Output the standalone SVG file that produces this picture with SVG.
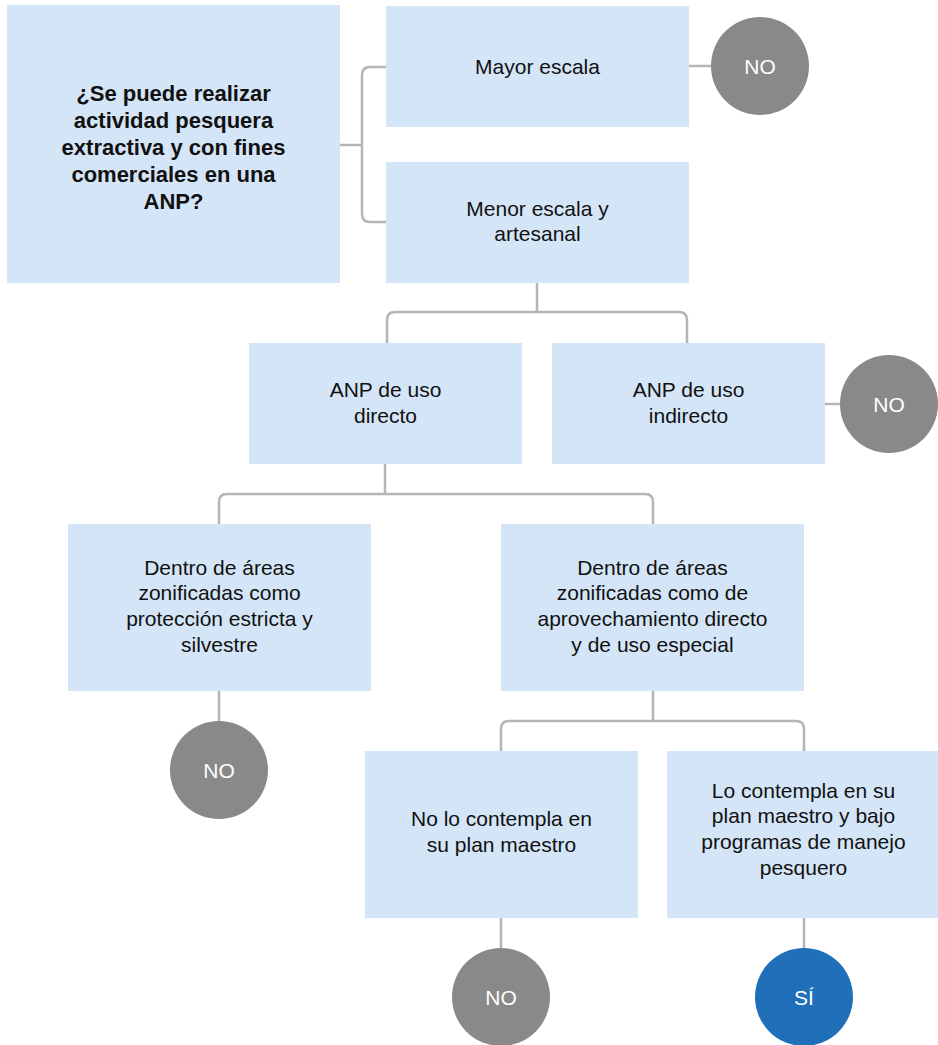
<svg xmlns="http://www.w3.org/2000/svg" width="938" height="1045" viewBox="0 0 938 1045">
<style>
.box{fill:#d4e5f7}
.t{font-family:"Liberation Sans",Arial,sans-serif;font-size:21px;fill:#111;text-anchor:middle}
.tb{font-family:"Liberation Sans",Arial,sans-serif;font-size:22px;font-weight:bold;fill:#111;text-anchor:middle}
.ct{font-family:"Liberation Sans",Arial,sans-serif;font-size:21px;fill:#fff;text-anchor:middle}
.no{fill:#898989}
.si{fill:#1f70b8}
.c{fill:none;stroke:#b5b5b5;stroke-width:2.5}
</style>
<rect width="938" height="1045" fill="#fff"/>
<g id="connectors">
<path class="c" d="M340,145 H362"/>
<path class="c" d="M386,67 H370 Q362,67 362,75 V214 Q362,222 370,222 H386"/>
<path class="c" d="M689,66 H711"/>
<path class="c" d="M537,283 V312"/>
<path class="c" d="M387,343 V320 Q387,312 395,312 H679 Q687,312 687,320 V343"/>
<path class="c" d="M825,404 H840"/>
<path class="c" d="M385,464 V494"/>
<path class="c" d="M219,524 V502 Q219,494 227,494 H645 Q653,494 653,502 V524"/>
<path class="c" d="M219,691 V721"/>
<path class="c" d="M653,691 V721"/>
<path class="c" d="M501,751 V729 Q501,721 509,721 H796 Q804,721 804,729 V751"/>
<path class="c" d="M501,918 V948"/>
<path class="c" d="M804,918 V948"/>
</g>
<g id="question">
<rect class="box" x="7" y="5" width="333" height="278"/>
<text class="tb"><tspan x="173.5" y="101">¿Se puede realizar</tspan><tspan x="173.5" y="128">actividad pesquera</tspan><tspan x="173.5" y="155">extractiva y con fines</tspan><tspan x="173.5" y="182">comerciales en una</tspan><tspan x="173.5" y="209">ANP?</tspan></text>
</g>
<g id="mayor">
<rect class="box" x="386" y="6" width="303" height="121"/>
<text class="t" x="537.5" y="74">Mayor escala</text>
</g>
<g id="no1">
<circle class="no" cx="760" cy="66" r="49"/>
<text class="ct" x="760" y="73.5">NO</text>
</g>
<g id="menor">
<rect class="box" x="386" y="162" width="303" height="121"/>
<text class="t"><tspan x="537.5" y="216">Menor escala y</tspan><tspan x="537.5" y="241">artesanal</tspan></text>
</g>
<g id="directo">
<rect class="box" x="249" y="343" width="273" height="121"/>
<text class="t"><tspan x="385.5" y="397">ANP de uso</tspan><tspan x="385.5" y="422.5">directo</tspan></text>
</g>
<g id="indirecto">
<rect class="box" x="552" y="343" width="273" height="121"/>
<text class="t"><tspan x="688.5" y="397">ANP de uso</tspan><tspan x="688.5" y="422.5">indirecto</tspan></text>
</g>
<g id="no2">
<circle class="no" cx="889" cy="404" r="49"/>
<text class="ct" x="889" y="411.5">NO</text>
</g>
<g id="dentro1">
<rect class="box" x="68" y="524" width="303" height="167"/>
<text class="t"><tspan x="219.5" y="574.5">Dentro de áreas</tspan><tspan x="219.5" y="600.3">zonificadas como</tspan><tspan x="219.5" y="626">protección estricta y</tspan><tspan x="219.5" y="651.8">silvestre</tspan></text>
</g>
<g id="dentro2">
<rect class="box" x="501" y="524" width="303" height="167"/>
<text class="t"><tspan x="652.5" y="574.5">Dentro de áreas</tspan><tspan x="652.5" y="600.3">zonificadas como de</tspan><tspan x="652.5" y="626">aprovechamiento directo</tspan><tspan x="652.5" y="651.8">y de uso especial</tspan></text>
</g>
<g id="no3">
<circle class="no" cx="219" cy="770" r="49"/>
<text class="ct" x="219" y="777.5">NO</text>
</g>
<g id="nolo">
<rect class="box" x="365" y="751" width="273" height="167"/>
<text class="t"><tspan x="501.5" y="826">No lo contempla en</tspan><tspan x="501.5" y="851.7">su plan maestro</tspan></text>
</g>
<g id="lo">
<rect class="box" x="667" y="751" width="273" height="167"/>
<text class="t"><tspan x="803.5" y="797.5">Lo contempla en su</tspan><tspan x="803.5" y="823.3">plan maestro y bajo</tspan><tspan x="803.5" y="849">programas de manejo</tspan><tspan x="803.5" y="874.8">pesquero</tspan></text>
</g>
<g id="no4">
<circle class="no" cx="501" cy="997" r="49"/>
<text class="ct" x="501" y="1004.5">NO</text>
</g>
<g id="si">
<circle class="si" cx="804" cy="997" r="49"/>
<text class="ct" x="804" y="1004.5">SÍ</text>
</g>
</svg>
